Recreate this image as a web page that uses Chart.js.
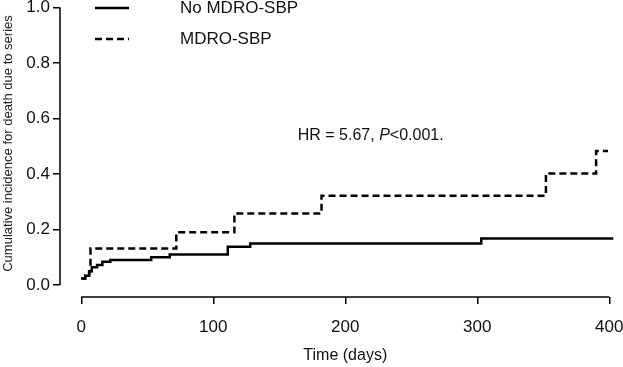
<!DOCTYPE html>
<html>
<head>
<meta charset="utf-8">
<script src="https://cdn.jsdelivr.net/npm/chart.js@4.4.1/dist/chart.umd.min.js"></script>
<style>
  html, body { margin: 0; padding: 0; background: #fff; }
</style>
</head>
<body>
<canvas id="chart" width="623" height="367"></canvas>
<script>
// Courbes d'incidence cumulée
const seriesLabels = ['No MDRO-SBP', 'MDRO-SBP'];
const noMdroTimes = [0, 3, 6, 8, 12, 16, 22, 53, 67, 111, 128, 303, 403];
const noMdroValues = [0.024, 0.034, 0.05, 0.064, 0.072, 0.084, 0.09, 0.1, 0.11, 0.138, 0.15, 0.168, 0.168];
const mdroTimes = [0, 3, 6, 7, 72, 116, 182, 352, 390, 399];
const mdroValues = [0.024, 0.034, 0.05, 0.132, 0.19, 0.258, 0.322, 0.402, 0.483, 0.483];

const xTicks = [0, 100, 200, 300, 400];
const yTicks = [0, 0.2, 0.4, 0.6, 0.8, 1.0];
const xTitle = 'Time (days)';
const yTitle = 'Cumulative incidence for death due to series';

// Annotation HR (position en unités des axes)
const hrParts = [['HR = 5.67, ', false], ['P', true], ['<0.001.', false]];
const hrPos = [164, 0.54];

const FONT = '"Liberation Sans", Arial, Helvetica, sans-serif';
Chart.defaults.font.family = FONT;
Chart.defaults.color = '#111';

function toPoints(times, values) {
    return times.map((t, i) => ({ x: t, y: values[i] }));
}

// Axes décalés à la R + titres + légende + texte HR
const extrasPlugin = {
    id: 'extras',
    afterDraw(chart) {
        const { ctx, chartArea } = chart;
        const x = chart.scales.x;
        const y = chart.scales.y;
        ctx.save();
        ctx.strokeStyle = '#000';
        ctx.lineWidth = 1.5;
        ctx.beginPath();
        ctx.moveTo(chartArea.left, y.getPixelForValue(yTicks[0]));
        ctx.lineTo(chartArea.left, y.getPixelForValue(yTicks[yTicks.length - 1]));
        ctx.moveTo(x.getPixelForValue(xTicks[0]), chartArea.bottom);
        ctx.lineTo(x.getPixelForValue(xTicks[xTicks.length - 1]), chartArea.bottom);
        ctx.stroke();

        // titre de l'axe x centré sur l'étendue des données
        ctx.fillStyle = '#111';
        ctx.font = '16px ' + FONT;
        ctx.textAlign = 'center';
        ctx.textBaseline = 'middle';
        const midX = (x.getPixelForValue(xTicks[0]) + x.getPixelForValue(xTicks[xTicks.length - 1])) / 2;
        ctx.fillText(xTitle, midX, 356);

        // titre de l'axe y
        ctx.save();
        ctx.fillStyle = '#222';
        ctx.font = '13px ' + FONT;
        ctx.translate(8, y.getPixelForValue(0.51));
        ctx.rotate(-Math.PI / 2);
        ctx.fillText(yTitle, 0, 0);
        ctx.restore();

        // légende
        ctx.textAlign = 'left';
        ctx.font = '17px ' + FONT;
        chart.data.datasets.forEach((ds, i) => {
            const ly = 8 + i * 31;
            ctx.lineWidth = 2.5;
            ctx.setLineDash(ds.borderDash || []);
            ctx.beginPath();
            ctx.moveTo(95, ly);
            ctx.lineTo(129, ly);
            ctx.stroke();
            ctx.setLineDash([]);
            ctx.fillText(ds.label, 180, ly);
        });

        // texte HR
        let tx = x.getPixelForValue(hrPos[0]);
        const ty = y.getPixelForValue(hrPos[1]);
        hrParts.forEach(([txt, italic]) => {
            ctx.font = (italic ? 'italic ' : '') + '16px ' + FONT;
            ctx.fillText(txt, tx, ty);
            tx += ctx.measureText(txt).width;
        });
        ctx.restore();
    }
};

const config = {
    type: 'line',
    data: {
        datasets: [
            {
                label: seriesLabels[0],
                data: toPoints(noMdroTimes, noMdroValues),
                borderColor: '#000',
                borderWidth: 2.5,
                pointRadius: 0,
                stepped: 'before',
                fill: false,
                clip: false
            },
            {
                label: seriesLabels[1],
                data: toPoints(mdroTimes, mdroValues),
                borderColor: '#000',
                borderWidth: 2.5,
                borderDash: [7, 4],
                pointRadius: 0,
                stepped: 'before',
                fill: false,
                clip: false
            }
        ]
    },
    options: {
        responsive: false,
        animation: false,
        events: [],
        layout: {
            autoPadding: false,
            padding: { top: 7.5, right: 13.7, left: 0, bottom: 0 }
        },
        plugins: {
            legend: { display: false },
            tooltip: { enabled: false }
        },
        scales: {
            x: {
                type: 'linear',
                min: -16.1,
                max: 400,
                afterBuildTicks: s => { s.ticks = xTicks.map(v => ({ value: v })); },
                afterFit: s => { s.height = 70; s.paddingLeft = 0; s.paddingRight = 0; },
                border: { display: false },
                grid: {
                    drawOnChartArea: false,
                    drawTicks: true,
                    tickLength: 7,
                    color: '#000',
                    lineWidth: 1.5
                },
                ticks: {
                    padding: 13,
                    maxRotation: 0,
                    autoSkip: false,
                    font: { size: 17 },
                    callback: v => String(v)
                }
            },
            y: {
                type: 'linear',
                min: -0.043,
                max: 1,
                afterBuildTicks: s => { s.ticks = yTicks.map(v => ({ value: v })); },
                afterFit: s => { s.width = 60; s.paddingTop = 0; s.paddingBottom = 0; },
                border: { display: false },
                grid: {
                    drawOnChartArea: false,
                    drawTicks: true,
                    tickLength: 7,
                    color: '#000',
                    lineWidth: 1.5
                },
                ticks: {
                    padding: 3,
                    autoSkip: false,
                    font: { size: 17 },
                    callback: v => v.toFixed(1)
                }
            }
        }
    },
    plugins: [extrasPlugin]
};

new Chart(document.getElementById('chart'), config);
</script>
</body>
</html>
